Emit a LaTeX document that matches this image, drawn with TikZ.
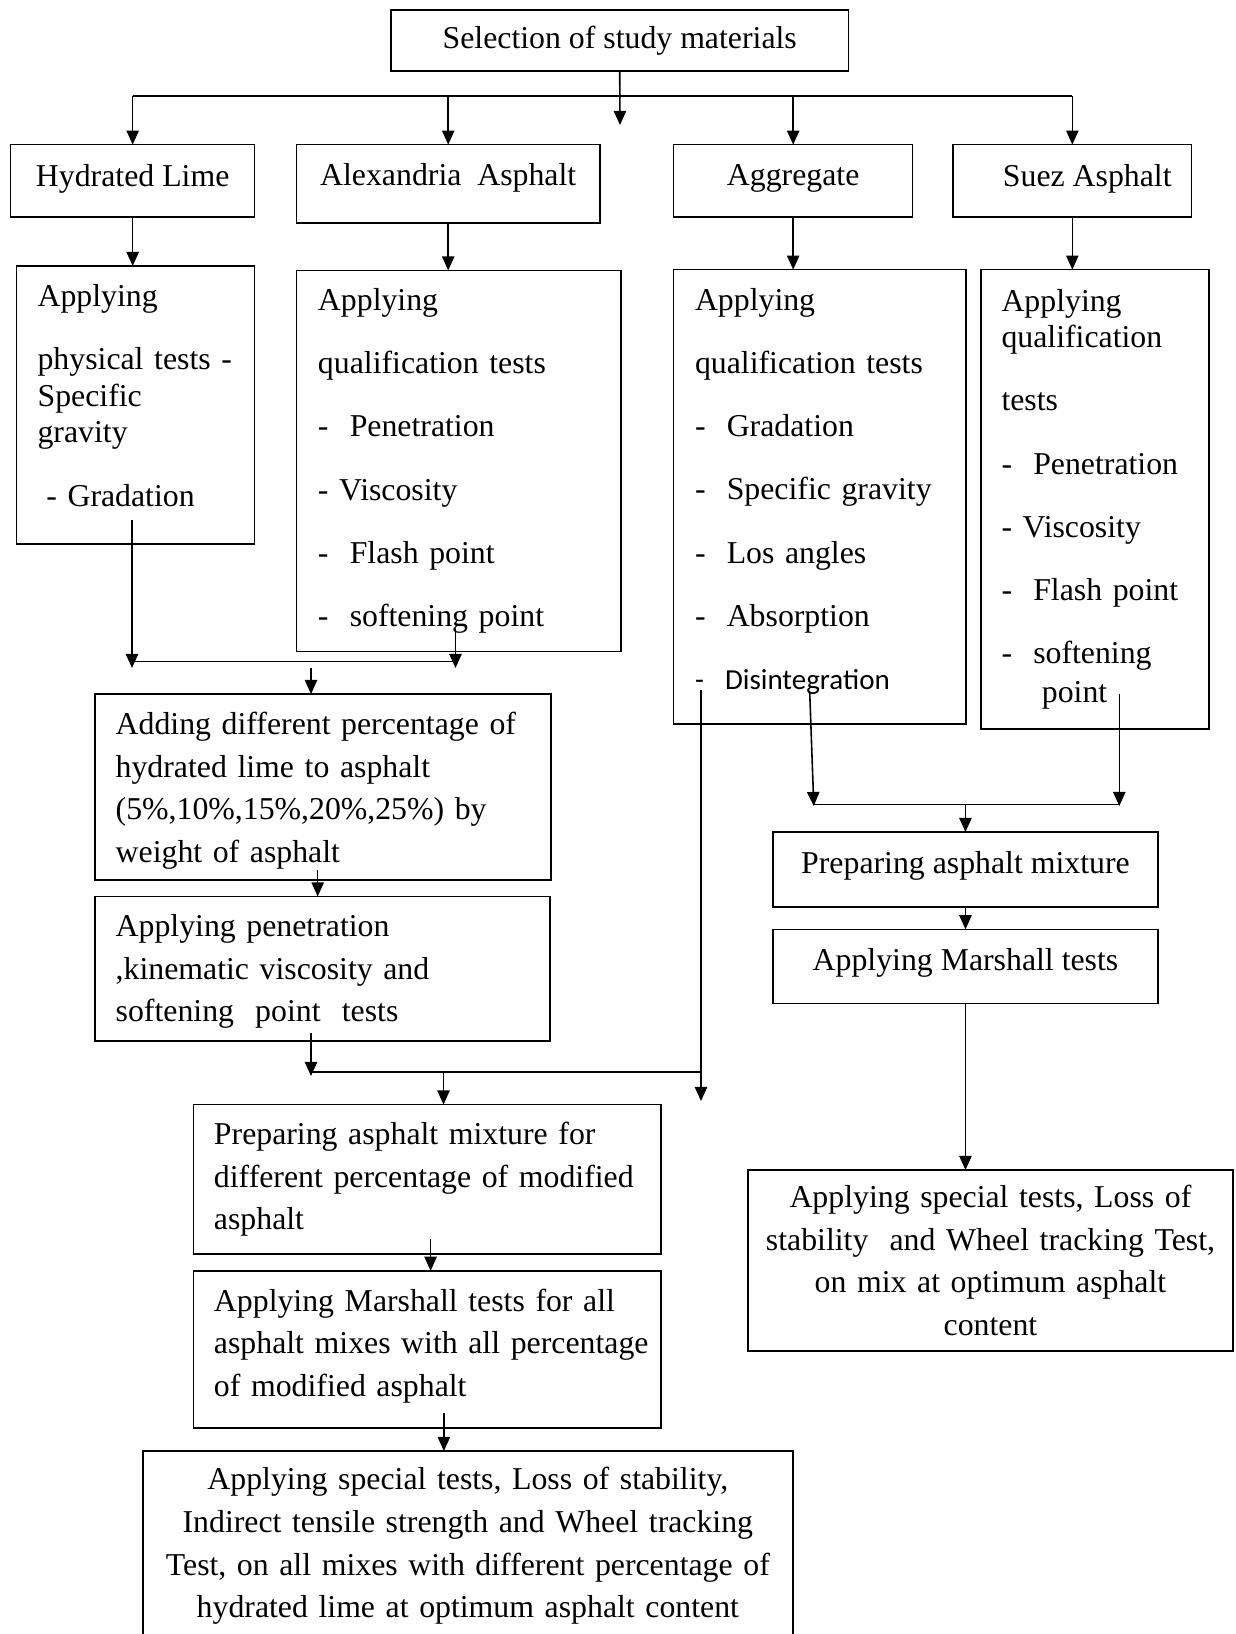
\documentclass[tikz,border=0pt]{standalone}
\usepackage{fontspec}
\setmainfont{Liberation Serif}
\newfontfamily\calib{Carlito}
\usetikzlibrary{arrows.meta,positioning}
\hyphenpenalty=10000
\exhyphenpenalty=10000

\tikzset{
    stage/.style={rectangle, draw, line width=0.9pt, inner sep=0pt, outer sep=0pt, anchor=north west,
        font=\fontsize{18.1}{24.2}\selectfont},
    testlist/.style={stage, align=left, font=\fontsize{18.1}{20.8}\selectfont},
    link/.style={line width=0.9pt},
    flow/.style={link, -{Triangle[length=8pt,width=7pt]}}
}

\begin{document}
\begin{tikzpicture}[x=0.02cm, y=-0.02cm]
    \fill[white] (0,0) rectangle (1236,1634);
    \useasboundingbox (0,0) rectangle (1236,1634);

    % materials
    \node(sel) [stage, minimum width=9.15cm, minimum height=1.22cm] at (391,10) {Selection of study materials};
    \node(hlime) [stage, minimum width=4.88cm, minimum height=1.444cm, text depth=6.4pt] at (10.7,144.6) {Hydrated Lime};
    \node(alex) [stage, minimum width=6.07cm, minimum height=1.566cm, text depth=11pt] at (296.5,144.6) {Alexandria~~Asphalt};
    \node(aggr) [stage, minimum width=4.78cm, minimum height=1.444cm, text depth=6.4pt] at (673.7,144.6) {Aggregate};
    \node(suez) [stage, minimum width=4.774cm, minimum height=1.444cm, text depth=6.4pt] at (953,144.6) {\hspace{17pt}Suez Asphalt};

    % tests on each material
    \node(hltest) [testlist, minimum width=4.76cm, minimum height=5.56cm, inner xsep=0.42cm, text width=3.92cm] at (16.6,266)
        {Applying\\[15.2pt] \mbox{physical tests -}\\ Specific\\ gravity\\[15.2pt] \hspace*{5pt}- Gradation\rule[-11pt]{0pt}{11pt}};
    \node(alextest) [testlist, minimum width=6.49cm, minimum height=7.62cm, inner xsep=0.43cm, text width=5.63cm] at (296.5,270.4)
        {Applying\\[15.2pt] qualification tests\\[15.2pt] -~~Penetration\\[15.2pt] - Viscosity\\[15.2pt] -~~Flash point\\[15.2pt] -~~softening point};
    \node(aggtest) [testlist, minimum width=5.852cm, minimum height=9.088cm, inner xsep=0.426cm, text width=5cm] at (673.7,269.6)
        {Applying\\[15.2pt] qualification tests\\[15.2pt] -~~Gradation\\[15.2pt] \mbox{-~~Specific gravity}\\[15.2pt] -~~Los angles\\[15.2pt] -~~Absorption\\[15.2pt]
         {\calib\fontsize{16.5}{20.8}\selectfont -~~Disintegration}\rule[-9pt]{0pt}{9pt}};
    \node(sueztest) [testlist, minimum width=4.56cm, minimum height=9.194cm, inner xsep=0.41cm, text width=3.74cm] at (981,269.6)
        {Applying\\ qualification\\[15.2pt] tests\\[15.2pt] -~~Penetration\\[15.2pt] - Viscosity\\[15.2pt] -~~Flash point\\[15.2pt] -~~softening\\[1.4pt] \hspace*{23pt}point};

    % modified asphalt branch
    \node(addlime) [stage, align=left, minimum width=9.12cm, minimum height=3.72cm, inner xsep=0.414cm, text width=8.292cm] at (95,694)
        {\rule{0pt}{17pt}\mbox{Adding different percentage of}\\ hydrated lime to asphalt\\ (5\%,10\%,15\%,20\%,25\%) by\\ weight of asphalt};
    \node(pentest) [stage, align=left, minimum width=9.1cm, minimum height=2.886cm, inner xsep=0.414cm, text width=8.272cm,
        below=0.33cm of addlime.south west, anchor=north west]
        {\rule{0pt}{16pt}Applying penetration\\ ,kinematic viscosity and\\ softening~~point~~tests};
    \node(modmix) [stage, align=left, minimum width=9.346cm, minimum height=2.99cm, inner xsep=0.406cm, text width=8.534cm] at (193.7,1104.5)
        {\mbox{Preparing asphalt mixture for}\\ \mbox{different percentage of modified}\\ asphalt};
    \node(modmarsh) [stage, align=left, minimum width=9.346cm, minimum height=3.144cm, inner xsep=0.406cm, text width=8.534cm,
        below=0.336cm of modmix.south west, anchor=north west]
        {\mbox{Applying Marshall tests for all}\\ \mbox{asphalt mixes with all percentage}\\ of modified asphalt\rule[-7.5pt]{0pt}{7.5pt}};
    \node(modspecial) [stage, align=center, minimum width=13.004cm, minimum height=3.8cm, text width=12.8cm] at (142.8,1451)
        {Applying special tests, Loss of stability,\\ Indirect tensile strength and Wheel tracking\\ Test, on all mixes with different percentage of\\ hydrated lime at optimum asphalt content};

    % suez asphalt branch
    \node(suezmix) [stage, minimum width=7.7cm, minimum height=1.5cm, text depth=8pt] at (773,832) {Preparing asphalt mixture};
    \node(suezmarsh) [stage, minimum width=7.7cm, minimum height=1.486cm, text depth=8pt, below=0.446cm of suezmix.south west, anchor=north west]
        {Applying Marshall tests};
    \node(suezspecial) [stage, align=center, minimum width=9.7cm, minimum height=3.62cm, text width=9.4cm] at (748,1170)
        {Applying special tests, Loss of\\ stability~~and Wheel tracking Test,\\ on mix at optimum asphalt\\ content};

    \coordinate (selend) at (620,125);
    \coordinate (bus) at (0,96);
    \coordinate (hlout) at (132,520);
    \coordinate (alexout) at (455.5,629);
    \coordinate (limejoin) at (0,661.5);
    \coordinate (limetip) at (0,668);
    \coordinate (limedrop) at (311,668);
    \coordinate (addout) at (317.7,870);
    \coordinate (penout) at (311,1033);
    \coordinate (modjoin) at (0,1072);
    \coordinate (modtip) at (0,1076);
    \coordinate (moddrop) at (443.5,1072);
    \coordinate (aggleft) at (701,690);
    \coordinate (aggtip) at (701,1101);
    \coordinate (aggright) at (809.7,691.8);
    \coordinate (aggrtip) at (813.8,806);
    \coordinate (suezout) at (1119.3,694);
    \coordinate (suezjoin) at (0,804.3);
    \coordinate (mixout) at (430.6,1239);
    \coordinate (marshout) at (443.9,1413);

    \draw[flow] (sel.south) -- (selend);
    \draw[link] (hlime.north |- bus) -- (suez.north |- bus);
    \foreach \n in {hlime,alex,aggr,suez}
        \draw[flow] (\n.north |- bus) -- (\n.north);
    \foreach \a/\b in {hlime/hltest,alex/alextest,aggr/aggtest,suez/sueztest}
        \draw[flow] (\a.south) -- (\a.south |- \b.north);

    % lime and alexandria asphalt
    \draw[flow] (hlout) -- (hlout |- limetip);
    \draw[flow] (alexout) -- (alexout |- limetip);
    \draw[link] (hlout |- limejoin) -- (alexout |- limejoin);
    \draw[flow] (limedrop) -- (limedrop |- addlime.north);
    \draw[flow] (addout) -- (addout |- pentest.north);

    % modified asphalt and aggregate
    \draw[flow] (penout) -- (penout |- modtip);
    \draw[link] (penout |- modjoin) -- (aggleft |- modjoin);
    \draw[flow] (aggleft) -- (aggtip);
    \draw[flow] (moddrop) -- (moddrop |- modmix.north);
    \draw[flow] (mixout) -- (mixout |- modmarsh.north);
    \draw[flow] (marshout) -- (marshout |- modspecial.north);

    % suez asphalt and aggregate
    \draw[flow] (aggright) -- (aggrtip);
    \draw[flow] (suezout) -- (suezout |- aggrtip);
    \draw[link] (aggrtip |- suezjoin) -- (suezout |- suezjoin);
    \draw[flow] (suezmix.north |- suezjoin) -- (suezmix.north);
    \draw[flow] (suezmix.south) -- (suezmarsh.north);
    \draw[flow] (suezmarsh.south) -- (suezmarsh.south |- suezspecial.north);
\end{tikzpicture}
\end{document}
